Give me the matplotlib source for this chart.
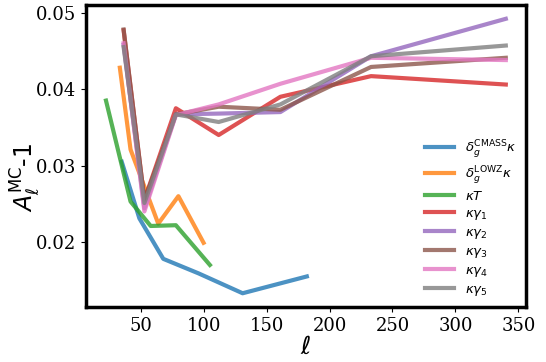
import numpy as np
import matplotlib
matplotlib.use("Agg")
import matplotlib.pyplot as plt

# values
ell_cmass = [35, 49, 68, 96, 131, 182]
a_cmass = [0.0305, 0.0231, 0.0178, 0.0159, 0.0133, 0.0155]

ell_lowz = [33.5, 42, 64, 80, 100]
a_lowz = [0.0428, 0.0321, 0.0224, 0.0260, 0.0199]

ell_kT = [22.5, 42, 58, 78, 105]
a_kT = [0.0385, 0.0253, 0.0221, 0.0222, 0.0170]

ell_shear = [36.5, 53, 78, 112, 161, 233, 340]
a_kg1 = [0.0477, 0.0255, 0.0375, 0.0340, 0.0390, 0.0417, 0.0406]
a_kg2 = [0.0458, 0.0244, 0.0367, 0.0368, 0.0370, 0.0443, 0.0492]
a_kg3 = [0.0478, 0.0255, 0.0367, 0.0377, 0.0373, 0.0429, 0.0441]
a_kg4 = [0.0460, 0.0240, 0.0366, 0.0380, 0.0407, 0.0441, 0.0438]
a_kg5 = [0.0455, 0.0251, 0.0367, 0.0357, 0.0380, 0.0443, 0.0457]

labels = [r'$\delta_g^{\rm CMASS}\kappa$', r'$\delta_g^{\rm LOWZ}\kappa$', r'$\kappa T$',
          r'$\kappa\gamma_1$', r'$\kappa\gamma_2$', r'$\kappa\gamma_3$',
          r'$\kappa\gamma_4$', r'$\kappa\gamma_5$']

fig = plt.figure(figsize=(5.46, 3.62), dpi=100)
ax = fig.add_axes([0.1575, 0.152, 0.8055, 0.834])

series = [(ell_cmass, a_cmass), (ell_lowz, a_lowz), (ell_kT, a_kT),
          (ell_shear, a_kg1), (ell_shear, a_kg2), (ell_shear, a_kg3),
          (ell_shear, a_kg4), (ell_shear, a_kg5)]
for (x, y), lab in zip(series, labels):
    ax.plot(x, y, lw=3, alpha=0.8, label=lab)

for s in ax.spines.values():
    s.set_linewidth(2.5)

ax.set_yticks([0.02, 0.03, 0.04, 0.05])
ax.set_xticks([50, 100, 150, 200, 250, 300, 350])
for t in ax.get_xticklabels() + ax.get_yticklabels():
    t.set_family('DejaVu Serif')
    t.set_fontsize(13)

ax.set_xlabel(r'$\ell$', fontsize=18, labelpad=0)
ax.set_ylabel(r'$A_\ell^{\rm MC}$-1', fontsize=17, labelpad=0)
ax.yaxis.set_label_coords(-0.10, 0.43)

ax.legend(loc='lower right', frameon=False, fontsize=9.5, labelspacing=0.3,
          handlelength=2.2, borderaxespad=0.3)

fig.savefig('out.png', dpi=100)
